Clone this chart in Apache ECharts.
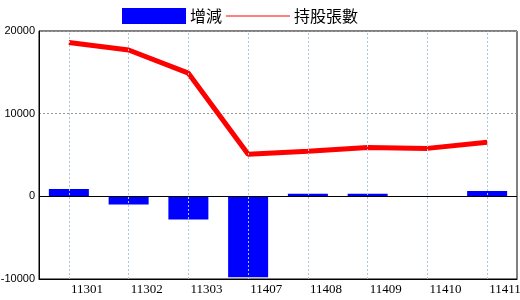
<!DOCTYPE html>
<html>
<head>
<meta charset="utf-8">
<script src="https://cdn.jsdelivr.net/npm/echarts@6/dist/echarts.min.js"></script>
<style>html,body{margin:0;padding:0;background:#fff;}#c{width:520px;height:300px;}</style>
</head>
<body>
<div id="c"></div>
<script>
var categories = ['11301','11302','11303','11407','11408','11409','11410','11411'];
var changeValues = [900, -1000, -2800, -9800, 300, 300, 0, 650];
var holdingValues = [18600, 17700, 14900, 5100, 5450, 5900, 5800, 6550];
var yTicks = {min: -10000, max: 20000, interval: 10000};

var chart = echarts.init(document.getElementById('c'), null, {renderer: 'canvas'});
chart.setOption({
  animation: false,
  grid: {left: 39, right: 3, top: 31, bottom: 21, show: true, borderColor: '#000', borderWidth: 1, backgroundColor: 'transparent', outerBoundsMode: 'none', containLabel: false},
  legend: {
    left: 122, top: 8, padding: 0, itemWidth: 64, itemHeight: 16, itemGap: 4,
    textStyle: {fontSize: 16, color: '#000', fontFamily: 'Noto Sans CJK TC', padding: [0,0,0,-1]},
    data: [
      {name: '增減', icon: 'rect'},
      {name: '持股張數', icon: 'path://M0,0L64,0L64,1L0,1Z'}
    ]
  },
  xAxis: {
    type: 'category', data: categories, boundaryGap: true,
    axisLine: {onZero: false, lineStyle: {color: '#000', width: 1}},
    axisTick: {show: false},
    axisLabel: {color: '#000', fontSize: 13, fontFamily: 'Liberation Serif', align: 'left', margin: 4, padding: [0,0,0,2]},
    splitLine: {show: false}
  },
  yAxis: {
    type: 'value', min: yTicks.min, max: yTicks.max, interval: yTicks.interval,
    axisLine: {show: true, lineStyle: {color: '#000', width: 1}},
    axisTick: {show: false},
    axisLabel: {color: '#000', fontSize: 11, fontFamily: 'Liberation Sans', margin: 4, formatter: function(v){ return String(v); }},
    splitLine: {show: true, lineStyle: {color: '#999', type: [2,2], width: 1}}
  },
  series: [
    {
      name: '增減', type: 'bar', data: changeValues, barWidth: 40,
      itemStyle: {color: '#0000ff'},
      markLine: {
        silent: true, symbol: 'none', label: {show: false},
        data: categories.map(function(c){ return {xAxis: c, lineStyle: {color: '#b0c4d4', type: [2,2], width: 1}}; })
          .concat([{yAxis: 0, lineStyle: {color: '#000', type: 'solid', width: 1}}])
      },
      z: 3
    },
    {
      name: '持股張數', type: 'line', data: holdingValues, symbol: 'none',
      lineStyle: {color: '#ff0000', width: 5}, itemStyle: {color: '#ff0000'}, z: 4
    }
  ]
});
</script>
</body>
</html>
